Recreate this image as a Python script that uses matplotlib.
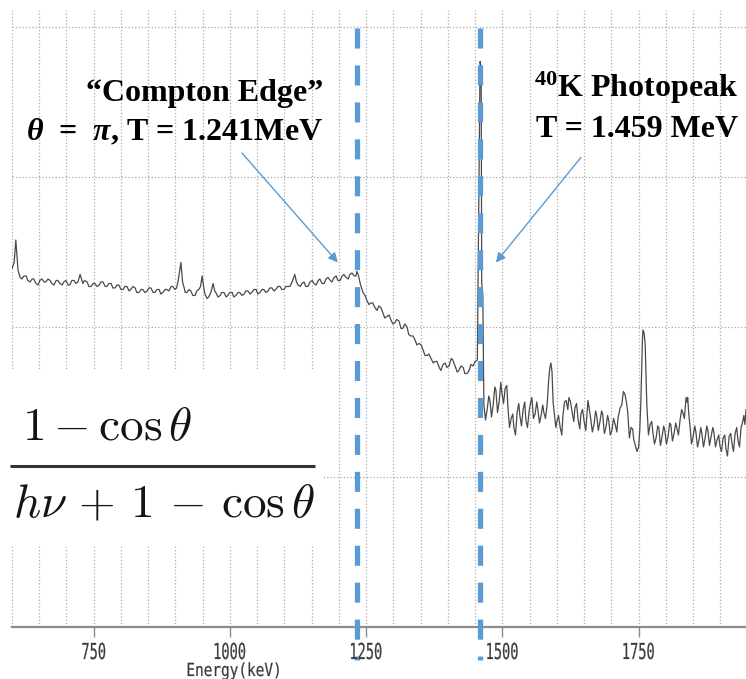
import matplotlib
matplotlib.use("Agg")
import numpy as np
import matplotlib.pyplot as plt
from matplotlib.patches import Rectangle, PathPatch
from matplotlib.textpath import TextPath
from matplotlib.font_manager import FontProperties
from matplotlib.transforms import Affine2D

plt.rcParams['mathtext.fontset'] = 'custom'
plt.rcParams['mathtext.rm'] = 'Liberation Serif:bold'
plt.rcParams['mathtext.bf'] = 'Liberation Serif:bold'
plt.rcParams['mathtext.it'] = 'Liberation Serif:italic:bold'

# spectrum (energy in keV, counts in arbitrary units)
energy = [600, 604, 607, 611, 615, 622, 629, 637, 644, 651, 659, 666, 673, 681, 688, 695,
          703, 710, 717, 725, 730, 738, 745, 752, 760, 767, 774, 782, 789, 796, 804, 811,
          818, 826, 833, 840, 848, 855, 862, 870, 877, 884, 892, 899, 905, 910, 916, 921,
          928, 936, 943, 949, 954, 961, 969, 974, 982, 989, 996, 1004, 1011, 1018, 1026,
          1033, 1040, 1048, 1055, 1062, 1070, 1077, 1084, 1092, 1099, 1106, 1114, 1119,
          1125, 1132, 1139, 1147, 1154, 1162, 1169, 1176, 1184, 1191, 1198, 1206, 1213,
          1220, 1228, 1233, 1239, 1244, 1251, 1259, 1266, 1273, 1281, 1288, 1295, 1303,
          1310, 1317, 1325, 1332, 1340, 1347, 1354, 1362, 1369, 1376, 1384, 1391, 1398,
          1406, 1413, 1420, 1428, 1435, 1442, 1450, 1454, 1459, 1461, 1462, 1464, 1466,
          1472, 1477, 1483, 1488, 1494, 1499, 1505, 1510, 1516, 1521, 1527, 1532, 1538,
          1543, 1549, 1554, 1560, 1565, 1571, 1576, 1582, 1587, 1591, 1595, 1600, 1606,
          1611, 1617, 1622, 1628, 1633, 1639, 1644, 1650, 1657, 1662, 1668, 1673, 1679,
          1684, 1690, 1695, 1701, 1707, 1712, 1719, 1725, 1730, 1736, 1741, 1747, 1752,
          1756, 1758, 1762, 1765, 1771, 1776, 1782, 1787, 1793, 1798, 1804, 1809, 1815,
          1820, 1826, 1831, 1837, 1840, 1844, 1850, 1855, 1861, 1866, 1872, 1877, 1883,
          1888, 1894, 1899, 1905, 1910, 1916, 1921, 1927, 1932, 1938, 1943, 1947]
counts = [239, 243, 258, 238, 233, 234, 231, 232, 229, 231, 230, 232, 229, 231, 229, 230,
          228, 231, 229, 235, 229, 230, 227, 229, 228, 230, 227, 229, 226, 228, 225, 227,
          225, 226, 223, 225, 224, 226, 223, 225, 223, 225, 227, 225, 231, 243, 226, 223,
          224, 221, 225, 234, 222, 220, 229, 223, 221, 223, 221, 223, 221, 223, 222,
          224, 223, 225, 223, 225, 224, 226, 225, 227, 225, 227, 230, 235,
          228, 229, 227, 230, 229, 231, 229, 232, 231, 233, 231, 234, 233,
          235, 234, 237, 229, 223, 218, 216, 213, 214, 209, 207, 205, 203,
          204, 199, 200, 194, 191, 189, 185, 181, 179, 177, 173, 175, 173,
          179, 174, 171, 173, 169, 175, 177, 178, 377, 373, 229, 221, 148,
          145, 151, 148, 158, 150, 156, 159, 147, 139, 133, 143, 141, 145,
          138, 144, 153, 142, 145, 141, 143, 148, 173, 170, 143, 137, 133,
          141, 151, 153, 143, 146, 138, 142, 137, 151, 139, 135, 141, 137,
          142, 133, 138, 131, 135, 139, 148, 155, 143, 133, 125, 117, 131,
          178, 198, 188, 148, 135, 130, 126, 133, 127, 131, 127, 135, 129,
          133, 138, 143, 153, 153, 135, 127, 130, 125, 129, 126, 131, 127,
          130, 125, 121, 126, 119, 127, 123, 129, 125, 133, 141, 145]

# extra readings of the channel-to-channel jitter between the points above
energy_jitter = [618, 626, 633, 640, 648, 655, 662, 670, 677, 684, 692, 699, 706, 714, 721,
                 733, 741, 749, 756, 763, 771, 778, 785, 793, 800, 807, 815, 822, 829, 837,
                 844, 851, 859, 866, 873, 881, 888, 895, 902, 913, 918, 925, 932, 939, 946,
                 952, 958, 965, 972, 978, 985, 993, 1000, 1007, 1015, 1022, 1029, 1037, 1044,
                 1051, 1059, 1066, 1073, 1081, 1088, 1095, 1103, 1110, 1122, 1129, 1136, 1143,
                 1151, 1158, 1165, 1173, 1180, 1187, 1195, 1202, 1209, 1217, 1224, 1231, 1236,
                 1248, 1255, 1262, 1270, 1277, 1284, 1292, 1299, 1306, 1314, 1321, 1328, 1336,
                 1343, 1351, 1358, 1365, 1373, 1380, 1387, 1395, 1402, 1409, 1417, 1424, 1431,
                 1439, 1446,
                 1469, 1475, 1480, 1486, 1491, 1497, 1502, 1508, 1513, 1519, 1524, 1530, 1535,
                 1541, 1546, 1552, 1557, 1563, 1568, 1574, 1579, 1585, 1589, 1593, 1598, 1603,
                 1609, 1614, 1620, 1625, 1631, 1636, 1642, 1647, 1653, 1660, 1665, 1671, 1676,
                 1682, 1687, 1693, 1698, 1704, 1710, 1716, 1722, 1728, 1733, 1739, 1744, 1750,
                 1754, 1757, 1760, 1764, 1768, 1774, 1779, 1785, 1790, 1796, 1801, 1807, 1812,
                 1818, 1823, 1829, 1834, 1839, 1842, 1847, 1853, 1858, 1864, 1869, 1875, 1880,
                 1886, 1891, 1897, 1902, 1908, 1913, 1919, 1924, 1930, 1935, 1941, 1945]
counts_jitter = [232, 234, 230, 232, 228, 232, 230, 231, 228, 231, 228, 231, 228, 231, 230,
                 231, 227, 229, 227, 230, 227, 229, 226, 228, 225, 227, 224, 227, 223, 225,
                 223, 226, 223, 225, 222, 225, 224, 227, 226, 230, 223, 225, 221, 224, 227,
                 226, 219, 223, 224, 220, 223, 220, 223, 220, 223, 221, 224, 222, 225,
                 222, 225, 223, 226, 224, 227, 225, 227, 227, 230, 227, 230, 227,
                 231, 228, 232, 229, 233, 230, 234, 231, 235, 232, 236, 234, 234,
                 221, 215, 216, 211, 213, 206, 208, 202, 205, 199, 202, 195, 194,
                 188, 188, 181, 182, 176, 177, 171, 176, 174, 178, 170, 174, 169,
                 171, 174,
                 138, 154, 140, 160, 143, 163, 149, 161, 133, 142, 128, 149, 134,
                 150, 133, 150, 139, 150, 136, 148, 139, 165, 176, 150, 133, 141,
                 128, 150, 145, 150, 137, 149, 132, 145, 131, 144, 130, 144, 131,
                 144, 129, 141, 128, 139, 130, 146, 157, 149, 126, 132, 121, 120,
                 150, 192, 196, 160, 128, 137, 122, 134, 121, 134, 122, 136, 124,
                 136, 128, 145, 139, 150, 142, 122, 134, 120, 133, 120, 134, 121,
                 133, 120, 128, 117, 128, 114, 129, 117, 133, 120, 137, 135]

major_ticks = [750, 1000, 1250, 1500, 1750]
compton_edge = 1234
photopeak = 1459

blue = '#5b9bd5'
grey = '#8c8c8c'
label_col = '#3a3a3a'

fig = plt.figure(figsize=(7.46, 6.79), dpi=100)
ax = fig.add_axes([12 / 746, 52 / 679, 734 / 746, 617 / 679])
ax.set_xlim(600, 1947)
ax.set_ylim(0, 411.3)

ax.set_xticks(major_ticks)
ax.set_xticks(range(600, 1950, 50), minor=True)
ax.set_yticks([100, 200, 300, 400])
ax.grid(which='both', axis='x', ls=':', color='#ababab', lw=0.9)
ax.grid(axis='y', ls=':', color='#ababab', lw=0.9)
ax.set_axisbelow(True)
ax.tick_params(axis='y', length=0, labelleft=False)
ax.tick_params(axis='x', which='minor', length=0)
ax.tick_params(axis='x', which='major', length=7, width=1, color=grey, labelbottom=False)
for s in ['top', 'left', 'right']:
    ax.spines[s].set_visible(False)
ax.spines['bottom'].set_color(grey)
ax.spines['bottom'].set_linewidth(1.6)


def squeezed(s, cx, base_y, size, sx):
    # tall, narrow screen-font look of the original axis labels
    tp = TextPath((0, 0), s, size=size, prop=FontProperties(family='DejaVu Sans Mono'))
    ext = tp.get_extents()
    mid = (ext.x0 + ext.x1) / 2
    tr = Affine2D().translate(-mid, 0).scale(sx, 1).translate(cx, base_y)
    fig.add_artist(PathPatch(tp, transform=tr, fc=label_col, ec=label_col, lw=0.15))


for t in major_ticks:
    cx = ax.transData.transform((t, 0))[0]
    squeezed(str(t), cx, 679 - 659, 22, 0.62)
squeezed('Energy(keV)', ax.transData.transform((1006, 0))[0], 679 - 676, 18, 0.8)

e_all = np.array(energy + energy_jitter)
c_all = np.array(counts + counts_jitter)
order = np.argsort(e_all, kind='stable')
ax.plot(e_all[order], c_all[order], color='#4a4a4a', lw=0.9, zorder=2)

for e in [compton_edge, photopeak]:
    ax.plot([e, e], [399, -22], color=blue, lw=3.8, dashes=(3.8, 3.2),
            dash_capstyle='butt', clip_on=False, zorder=6)

# formula pasted on a white patch
ax.add_patch(Rectangle((578, 53), 1169 - 578, 118, fc='white', ec='none',
                       zorder=3, clip_on=False))
ax.text(618, 124.7, r'$1-\cos\theta$', math_fontfamily='cm', fontsize=34,
        color='#141414', ha='left', va='baseline', zorder=4)
ax.plot([596, 1156], [107.3, 107.3], color='#333333', lw=2.2,
        solid_capstyle='butt', clip_on=False, zorder=4)
ax.text(602, 73.3, r'$h\nu\,+\,1\,-\,\cos\theta$', math_fontfamily='cm', fontsize=34,
        color='#141414', ha='left', va='baseline', zorder=4, clip_on=False)

serif = dict(family='Liberation Serif', fontweight='bold', fontsize=23,
             color='black', va='baseline', ha='right', zorder=7)
ax.text(1171, 350.7, '\u201cCompton Edge\u201d', **serif)
ax.text(1171, 324.7, r'$\theta$  =  $\pi$, T = 1.241MeV', **serif)
ax.text(1932, 353.3, r'$^{40}$K Photopeak', **serif)
ax.text(1932, 326.7, 'T = 1.459 MeV', **serif)

arrow = dict(arrowstyle='-|>', color=blue, lw=1.0, mutation_scale=14, shrinkA=0, shrinkB=0)
ax.annotate('', xy=(1198, 243), xytext=(1022, 316), arrowprops=arrow, zorder=7)
ax.annotate('', xy=(1488, 243), xytext=(1644, 313), arrowprops=arrow, zorder=7)

fig.savefig('out.png', dpi=100)
